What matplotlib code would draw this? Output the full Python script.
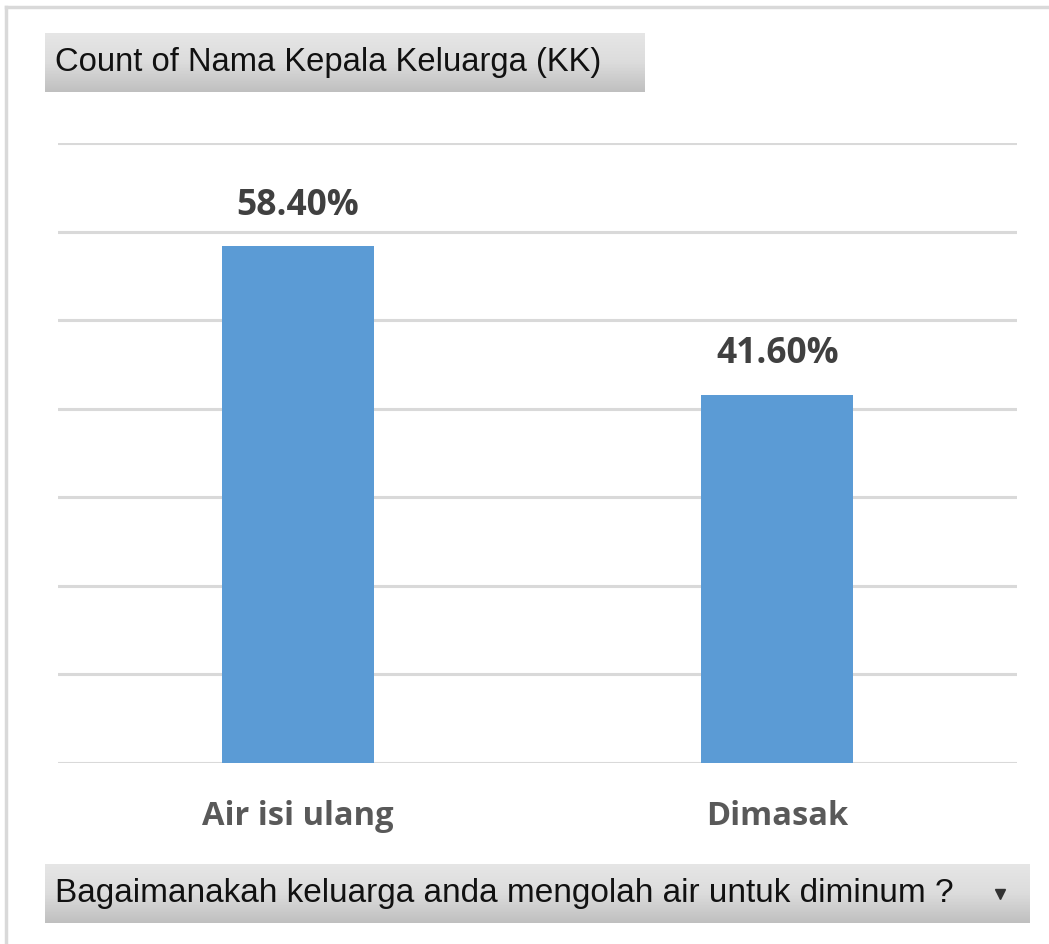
import matplotlib
matplotlib.use("Agg")
import matplotlib.pyplot as plt
import numpy as np
from matplotlib.lines import Line2D
from matplotlib.colors import LinearSegmentedColormap

categories = ["Air isi ulang", "Dimasak"]
values = [58.40, 41.60]
value_labels = ["58.40%", "41.60%"]
title_button = "Count of Nama Kepala Keluarga (KK)"
axis_button = "Bagaimanakah keluarga anda mengolah air untuk diminum ?"

W, H = 1049, 944
fig = plt.figure(figsize=(W / 100, H / 100), dpi=100)
fig.patch.set_facecolor("white")

def fx(px):
    return px / W

def fy(py):
    return 1 - py / H

# outer light border (top & left)
fig.add_artist(Line2D([fx(6), 1], [fy(7), fy(7)], color="#d9d9d9", lw=2.5, transform=fig.transFigure))
fig.add_artist(Line2D([fx(6), fx(6)], [fy(7), 0], color="#d9d9d9", lw=2.5, transform=fig.transFigure))

# main axes
ax = fig.add_axes([fx(58), fy(763), fx(1017) - fx(58), fy(143) - fy(763)])
x = np.arange(len(categories))
ax.bar(x, values, width=0.317, color="#5b9bd5", zorder=3)
ax.set_xlim(-0.5, 1.5)
ax.set_ylim(0, 70)
ax.set_yticks(np.arange(0, 71, 10))
ax.yaxis.grid(True, color="#d9d9d9", lw=2.2, zorder=0)
ax.set_axisbelow(True)
for s in ax.spines.values():
    s.set_visible(False)
ax.tick_params(left=False, bottom=False, labelleft=False)
ax.set_xticks(x)
ax.set_xticklabels(categories, fontsize=23.5, fontweight="bold", color="#595959", family="Open Sans")
ax.tick_params(axis="x", pad=23)
for xi, v, lab in zip(x, values, value_labels):
    ax.annotate(lab, (xi, v), xytext=(0, 16), textcoords="offset points", ha="center", va="bottom",
                fontsize=25.5, fontweight="bold", color="#404040", family="Open Sans")

def button(x0, y0, x1, y1, text, fs, arrow=False):
    bax = fig.add_axes([fx(x0), fy(y1), fx(x1) - fx(x0), fy(y0) - fy(y1)])
    grad = np.linspace(0, 1, 100).reshape(-1, 1)
    cmap = LinearSegmentedColormap.from_list("g", ["#e6e6e6", "#dcdcdc", "#bfbfbf"])
    bax.imshow(grad, aspect="auto", cmap=cmap, extent=[0, 1, 0, 1], origin="upper")
    bax.set_xlim(0, 1)
    bax.set_ylim(0, 1)
    bax.axis("off")
    bax.text(10 / (x1 - x0), 0.5, text, ha="left", va="center", fontsize=fs, color="#111111",
             family="Liberation Sans")
    if arrow:
        bax.plot([(1000 - x0) / (x1 - x0)], [0.5], marker="v", color="#333333", markersize=7)

button(45, 33, 645, 92, title_button, 23.6)
button(45, 864, 1030, 923, axis_button, 24, arrow=True)

fig.savefig("out.png", dpi=100)
